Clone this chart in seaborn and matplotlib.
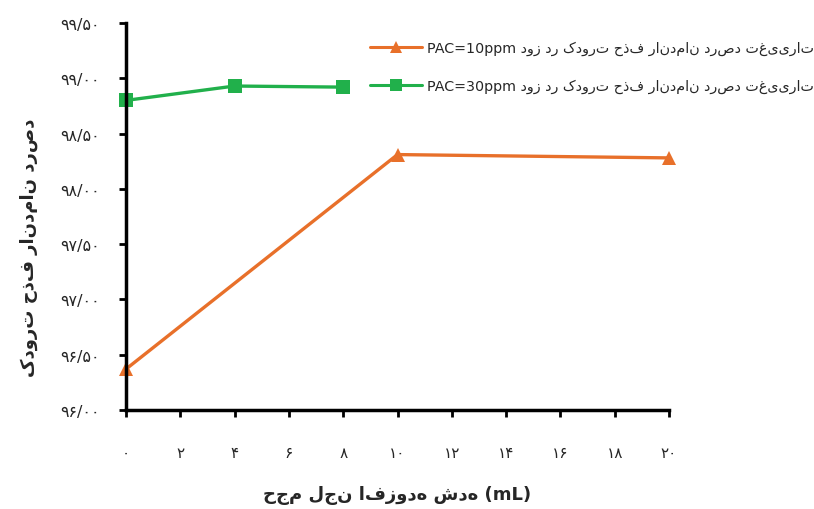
import matplotlib
matplotlib.use("Agg")
import matplotlib.pyplot as plt
import seaborn as sns
import pandas as pd
from matplotlib.lines import Line2D

# ---------------- data ----------------
x_pac10 = [0, 10, 20]
y_pac10 = [96.37, 98.31, 98.28]
x_pac30 = [0, 4, 8]
y_pac30 = [98.80, 98.93, 98.92]

series_prefix = "تغییرات درصد راندمان حذف کدورت در دوز"
series_dose = ["PAC=10ppm", "PAC=30ppm"]
y_label_text = "درصد راندمان حذف کدورت"
x_label_text = "حجم لجن افزوده شده (mL)"

x_ticks = [0, 2, 4, 6, 8, 10, 12, 14, 16, 18, 20]
y_ticks = [96.0, 96.5, 97.0, 97.5, 98.0, 98.5, 99.0, 99.5]


def visual_rtl(text):
    # renderer shapes each word but lays words out left-to-right,
    # so put the words of an RTL phrase in visual order
    return " ".join(reversed(text.split(" ")))


def fa_digits(s):
    return s.translate(str.maketrans("0123456789", "۰۱۲۳۴۵۶۷۸۹"))


# ---------------- data frame ----------------
labels = [d + " " + visual_rtl(series_prefix) for d in series_dose]
df = pd.DataFrame({
    "x": x_pac10 + x_pac30,
    "y": y_pac10 + y_pac30,
    "series": [labels[0]] * len(x_pac10) + [labels[1]] * len(x_pac30),
})

orange = "#E8702A"
green = "#21B04B"
palette = {labels[0]: orange, labels[1]: green}
markers = {labels[0]: "^", labels[1]: "s"}

sns.set_theme(style="white")
plt.rcParams['font.family'] = ['DejaVu Sans']

fig = plt.figure(figsize=(8.14, 5.10), dpi=100)
ax = fig.add_axes([126 / 814, 1 - 411 / 510, (669 - 126) / 814, (411 - 24) / 510])

sns.lineplot(data=df, x="x", y="y", hue="series", style="series",
             palette=palette, markers=markers, dashes=False,
             markersize=10, linewidth=2.4, markeredgewidth=0,
             legend=False, ax=ax, clip_on=False)

ax.set_xlim(0, 20)
ax.set_ylim(96.0, 99.5)
ax.set_xticks(x_ticks)
ax.set_xticklabels([fa_digits(str(t)) for t in x_ticks], fontsize=11)
ax.set_yticks(y_ticks)
ax.set_yticklabels([fa_digits(f"{t:.2f}".replace(".", "/")) for t in y_ticks], fontsize=11.5)

for s in ["top", "right"]:
    ax.spines[s].set_visible(False)
for s in ["left", "bottom"]:
    ax.spines[s].set_color("black")
    ax.spines[s].set_linewidth(2.5)
ax.tick_params(axis="both", direction="out", length=5, width=2, color="black",
               left=True, bottom=True)
ax.tick_params(axis="y", pad=14)
ax.tick_params(axis="x", pad=20)
ax.grid(False)

ax.set_ylabel(visual_rtl(y_label_text), fontsize=13, fontweight="bold")
ax.yaxis.set_label_coords((38 - 126) / 543, (411 - 248) / 387)
ax.set_xlabel(x_label_text, fontsize=13, fontweight="bold", labelpad=18)

handles = [
    Line2D([], [], color=orange, marker="^", markersize=9, linewidth=2.2, markeredgewidth=0),
    Line2D([], [], color=green, marker="s", markersize=8, linewidth=2.2, markeredgewidth=0),
]
fig.legend(handles, labels, loc="upper left", bbox_to_anchor=(370 / 814, 1 - 42 / 510),
           frameon=False, fontsize=10.3, handlelength=3.6, labelspacing=1.65,
           handletextpad=0.4, borderaxespad=0, borderpad=0)

fig.savefig("out.png", dpi=100)
